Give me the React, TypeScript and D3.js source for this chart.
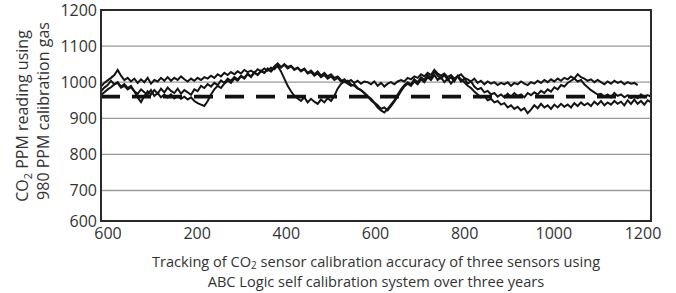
import * as d3 from "d3";
import React, { useEffect, useRef } from "react";

// y axis ticks and x tick labels (the first label really reads 600 in the source)
const yTicks = [600, 700, 800, 900, 1000, 1100, 1200];
const xTickLabels = ["600", "200", "400", "600", "800", "1000", "1200"];
const calibrationLevel = 960;

// three sensors, sampled evenly across the run (166 steps); sensor A stops a little early
const sensorA = [
    988, 998, 1005, 1012, 1020, 1034, 1018, 1006, 1012, 1002,
    1010, 998, 1008, 1000, 1012, 996, 1006, 1002, 1012, 1004,
    1014, 1004, 1012, 1006, 1016, 1008, 1002, 1010, 1004, 1012,
    1006, 1014, 1010, 1018, 1012, 1022, 1016, 1026, 1020, 1028,
    1022, 1030, 1024, 1034, 1028, 1032, 1026, 1036, 1030, 1038,
    1032, 1040, 1036, 1046, 1040, 1050, 1042, 1046, 1036, 1040,
    1030, 1036, 1024, 1028, 1018, 1024, 1014, 1020, 1010, 1016,
    1006, 1012, 1002, 1008, 1000, 1006, 998, 1004, 996, 1002,
    1000, 994, 1002, 990, 998, 988, 996, 1000, 994, 1002,
    1006, 1002, 1012, 1008, 1016, 1012, 1022, 1016, 1026, 1020,
    1034, 1024, 1018, 1024, 1014, 1020, 1010, 1016, 1022, 1012,
    1008, 1002, 1010, 998, 1004, 994, 1002, 996, 1000, 992,
    998, 994, 1000, 990, 998, 994, 1002, 996, 992, 1000,
    996, 1004, 998, 1006, 1000, 1008, 1002, 1010, 1004, 1012,
    1008, 1016, 1010, 1022, 1014, 1010, 1004, 1008, 1000, 1006,
    1000, 994, 1002, 996, 1004, 998, 1002, 994, 1000, 996,
    998, 992,
];

const sensorB = [
    965, 972, 980, 986, 994, 1000, 988, 995, 984, 990,
    975, 958, 945, 962, 975, 966, 978, 968, 982, 972,
    985, 976, 970, 982, 968, 978, 972, 965, 980, 975,
    990, 984, 995, 988, 998, 992, 1005, 998, 1010, 1004,
    1014, 1008, 1018, 1012, 1024, 1016, 1028, 1020, 1030, 1026,
    1036, 1030, 1040, 1044, 1030, 1010, 990, 975, 962, 955,
    948, 958, 944, 954, 946, 940, 952, 944, 956, 948,
    962, 982, 995, 1002, 996, 990, 994, 984, 978, 970,
    962, 954, 944, 936, 926, 930, 922, 934, 946, 960,
    975, 988, 996, 990, 1002, 994, 1008, 1000, 1014, 1006,
    1020, 1006, 1014, 1000, 1010, 996, 1008, 1016, 1002, 1010,
    996, 1002, 988, 980, 984, 972, 976, 966, 970, 960,
    966, 958, 968, 960, 970, 962, 966, 958, 970, 964,
    972, 966, 976, 970, 980, 974, 986, 980, 992, 988,
    998, 1004, 1010, 1002, 1006, 994, 986, 978, 972, 966,
    968, 960, 966, 958, 970, 962, 966, 958, 964, 956,
    962, 956, 966, 958, 964, 960,
];

const sensorC = [
    975, 985, 992, 1004, 994, 998, 985, 990, 980, 986,
    975, 968, 980, 972, 966, 978, 962, 970, 958, 966,
    958, 966, 955, 962, 954, 960, 952, 958, 948, 942,
    938, 934, 948, 966, 980, 990, 984, 996, 1004, 998,
    1010, 1004, 1016, 1010, 1022, 1014, 1026, 1020, 1032, 1026,
    1038, 1030, 1044, 1052, 1042, 1048, 1038, 1044, 1034, 1040,
    1032, 1038, 1026, 1032, 1022, 1030, 1018, 1026, 1016, 1022,
    1012, 1016, 1006, 1000, 1004, 994, 990, 982, 978, 970,
    960, 950, 942, 930, 922, 916, 926, 938, 950, 966,
    980, 992, 1000, 994, 1008, 1000, 1014, 1006, 1020, 1012,
    1030, 1018, 1010, 1020, 1006, 1014, 1002, 1018, 1008, 1000,
    990, 984, 974, 966, 958, 962, 950, 954, 944, 948,
    938, 942, 930, 936, 926, 932, 922, 928, 914, 924,
    936, 928, 940, 930, 936, 926, 938, 930, 940, 932,
    938, 930, 942, 934, 944, 936, 942, 934, 946, 938,
    948, 936, 944, 938, 948, 940, 946, 936, 950, 940,
    952, 940, 948, 938, 950, 944,
];

const STEPS = sensorB.length - 1;

const App: React.FC = () => {
    const svgRef = useRef<SVGSVGElement>(null);

    useEffect(() => {
        const svg = d3.select(svgRef.current);
        svg.selectAll("*").remove();

        const left = 101, right = 651, top = 10, bottom = 221;

        const x = d3.scaleLinear().domain([0, STEPS]).range([left, right]);
        // the source squeezes the lowest band a little
        const y = d3.scaleLinear().domain([600, 700, 1200]).range([bottom, 190.5, top]);
        const xLabel = d3.scalePoint<number>()
            .domain(d3.range(xTickLabels.length))
            .range([108, 643]);

        const font = "'Open Sans', sans-serif";

        // gridlines
        svg.append("g")
            .selectAll("line")
            .data(yTicks.slice(1, -1))
            .enter()
            .append("line")
            .attr("x1", left)
            .attr("x2", right)
            .attr("y1", d => y(d))
            .attr("y2", d => y(d))
            .attr("stroke", "#9a9a9a")
            .attr("stroke-width", 1.3);

        // sensor traces
        const line = d3.line<number>()
            .x((_, i) => x(i))
            .y(d => y(d));

        svg.append("g")
            .selectAll("path")
            .data([sensorA, sensorB, sensorC])
            .enter()
            .append("path")
            .attr("d", d => line(d))
            .attr("fill", "none")
            .attr("stroke", "#141414")
            .attr("stroke-width", 2)
            .attr("stroke-linejoin", "miter");

        // calibration gas reference
        svg.append("line")
            .attr("x1", left)
            .attr("x2", right)
            .attr("y1", y(calibrationLevel))
            .attr("y2", y(calibrationLevel))
            .attr("stroke", "#111")
            .attr("stroke-width", 3.6)
            .attr("stroke-dasharray", "19 12");

        // frame
        svg.append("rect")
            .attr("x", left)
            .attr("y", top)
            .attr("width", right - left)
            .attr("height", bottom - top)
            .attr("fill", "none")
            .attr("stroke", "#2a2a2a")
            .attr("stroke-width", 2);

        // y tick labels
        svg.append("g")
            .selectAll("text")
            .data(yTicks)
            .enter()
            .append("text")
            .attr("x", left - 4)
            .attr("y", d => y(d))
            .attr("dy", "0.36em")
            .attr("text-anchor", "end")
            .attr("font-family", font)
            .attr("font-size", 16)
            .attr("fill", "#333")
            .text(d => d);

        // x tick labels
        svg.append("g")
            .selectAll("text")
            .data(xTickLabels)
            .enter()
            .append("text")
            .attr("x", (_, i) => xLabel(i) as number)
            .attr("y", 233)
            .attr("dy", "0.36em")
            .attr("text-anchor", "middle")
            .attr("font-family", font)
            .attr("font-size", 16)
            .attr("fill", "#333")
            .text(d => d);

        // y title, two rotated lines
        const yTitle = svg.append("text")
            .attr("transform", "translate(22,116) rotate(-90)")
            .attr("text-anchor", "middle")
            .attr("dy", "0.36em")
            .attr("font-family", font)
            .attr("font-size", 16)
            .attr("fill", "#333");
        yTitle.append("tspan").text("CO");
        yTitle.append("tspan").attr("font-size", 11).attr("dy", 4).text("2");
        yTitle.append("tspan").attr("dy", -4).text(" PPM reading using");

        svg.append("text")
            .attr("transform", "translate(43,111) rotate(-90)")
            .attr("text-anchor", "middle")
            .attr("dy", "0.36em")
            .attr("font-family", font)
            .attr("font-size", 16)
            .attr("fill", "#333")
            .text("980 PPM calibration gas");

        // caption under the chart
        const cx = (left + right) / 2;
        const cap1 = svg.append("text")
            .attr("x", cx)
            .attr("y", 261.5)
            .attr("dy", "0.36em")
            .attr("text-anchor", "middle")
            .attr("font-family", font)
            .attr("font-size", 14.6)
            .attr("fill", "#333");
        cap1.append("tspan").text("Tracking of CO");
        cap1.append("tspan").attr("font-size", 10).attr("dy", 2).text("2");
        cap1.append("tspan").attr("dy", -2).text(" sensor calibration accuracy of three sensors using");

        svg.append("text")
            .attr("x", cx)
            .attr("y", 281.5)
            .attr("dy", "0.36em")
            .attr("text-anchor", "middle")
            .attr("font-family", font)
            .attr("font-size", 14.6)
            .attr("fill", "#333")
            .text("ABC Logic self calibration system over three years");
    }, []);

    return (
        <svg
            ref={svgRef}
            width={676}
            height={293}
            style={{ position: "absolute", left: 0, top: 0, background: "#fff" }}
        />
    );
};

export default App;
